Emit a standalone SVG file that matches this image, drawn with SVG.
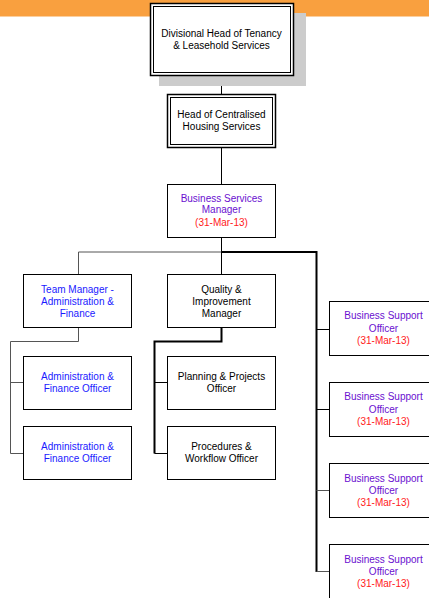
<svg xmlns="http://www.w3.org/2000/svg" width="429" height="598" viewBox="0 0 429 598">
<style>
text{font-family:"Liberation Sans",Arial,sans-serif;font-size:10px;text-anchor:middle}
.box{fill:#fff;stroke:#000;stroke-width:1}
.k{fill:#000}.b{fill:#1a1aff}.p{fill:#6a0fd0}.r{fill:#ff1a1a}
.thin{stroke:#555;stroke-width:1;fill:none}
.blk{stroke:#000;stroke-width:1;fill:none}
.bold{stroke:#000;stroke-width:2;fill:none}
</style>
<rect x="0" y="0" width="429" height="16.5" fill="#f9a03f"/>
<g id="connectors">
<path class="blk" d="M221.5 76V94M221.5 148V184M221.5 238V252"/>
<path class="thin" d="M78.5 274V252H221.5"/>
<path class="bold" d="M221.5 252H316.5V572"/>
<path class="blk" d="M221.5 252V274"/>
<path class="thin" d="M78.5 328V341.5H10.5V453.5H23M10.5 382.5H23"/>
<path class="bold" d="M221.5 328V341.5H154.5V453.5"/>
<path class="blk" d="M154.5 382.5H167M154.5 453.5H167"/>
<path class="blk" d="M316.5 329.5H329M316.5 409.5H329"/>
<path class="thin" d="M316.5 490.5H329M316.5 571.5H329"/>
</g>
<g id="n1">
<rect x="159" y="13" width="147" height="73" fill="#cccccc"/>
<rect x="150.5" y="3.5" width="143" height="72" fill="#fff" stroke="#000" stroke-width="1.5"/>
<rect x="153.5" y="6.5" width="137" height="66" fill="none" stroke="#000" stroke-width="1"/>
<text class="k" x="221.5" y="37">Divisional Head of Tenancy</text>
<text class="k" x="221.5" y="49">&amp; Leasehold Services</text>
</g>
<g id="n2">
<rect x="167.5" y="94.5" width="108" height="53" fill="#fff" stroke="#000" stroke-width="1.5"/>
<rect x="170.5" y="97.5" width="102" height="47" fill="none" stroke="#000" stroke-width="1"/>
<text class="k" x="221.5" y="118">Head of Centralised</text>
<text class="k" x="221.5" y="130">Housing Services</text>
</g>
<g id="n3">
<rect class="box" x="167.5" y="184.5" width="108" height="53"/>
<text class="p" x="221.5" y="202">Business Services</text>
<text class="p" x="221.5" y="213">Manager</text>
<text class="r" x="221.5" y="226">(31-Mar-13)</text>
</g>
<g id="n4">
<rect class="box" x="23.5" y="274.5" width="108" height="53"/>
<text class="b" x="77.5" y="293">Team Manager -</text>
<text class="b" x="77.5" y="305">Administration &amp;</text>
<text class="b" x="77.5" y="317">Finance</text>
</g>
<g id="n5">
<rect class="box" x="167.5" y="274.5" width="108" height="53"/>
<text class="k" x="221.5" y="293">Quality &amp;</text>
<text class="k" x="221.5" y="305">Improvement</text>
<text class="k" x="221.5" y="317">Manager</text>
</g>
<g id="n6">
<rect class="box" x="23.5" y="356.5" width="108" height="53"/>
<text class="b" x="77.5" y="380">Administration &amp;</text>
<text class="b" x="77.5" y="392">Finance Officer</text>
</g>
<g id="n7">
<rect class="box" x="23.5" y="426.5" width="108" height="53"/>
<text class="b" x="77.5" y="450">Administration &amp;</text>
<text class="b" x="77.5" y="462">Finance Officer</text>
</g>
<g id="n8">
<rect class="box" x="167.5" y="356.5" width="108" height="53"/>
<text class="k" x="221.5" y="380">Planning &amp; Projects</text>
<text class="k" x="221.5" y="392">Officer</text>
</g>
<g id="n9">
<rect class="box" x="167.5" y="426.5" width="108" height="53"/>
<text class="k" x="221.5" y="450">Procedures &amp;</text>
<text class="k" x="221.5" y="462">Workflow Officer</text>
</g>
<g id="n10">
<rect class="box" x="329.5" y="301.5" width="108" height="54"/>
<text class="p" x="383.5" y="319">Business Support</text>
<text class="p" x="383.5" y="332">Officer</text>
<text class="r" x="383.5" y="344">(31-Mar-13)</text>
</g>
<g id="n11">
<rect class="box" x="329.5" y="382.5" width="108" height="54"/>
<text class="p" x="383.5" y="400">Business Support</text>
<text class="p" x="383.5" y="413">Officer</text>
<text class="r" x="383.5" y="425">(31-Mar-13)</text>
</g>
<g id="n12">
<rect class="box" x="329.5" y="463.5" width="108" height="54"/>
<text class="p" x="383.5" y="482">Business Support</text>
<text class="p" x="383.5" y="494">Officer</text>
<text class="r" x="383.5" y="506">(31-Mar-13)</text>
</g>
<g id="n13">
<rect class="box" x="329.5" y="544.5" width="108" height="60"/>
<text class="p" x="383.5" y="563">Business Support</text>
<text class="p" x="383.5" y="575">Officer</text>
<text class="r" x="383.5" y="587">(31-Mar-13)</text>
</g>
</svg>
